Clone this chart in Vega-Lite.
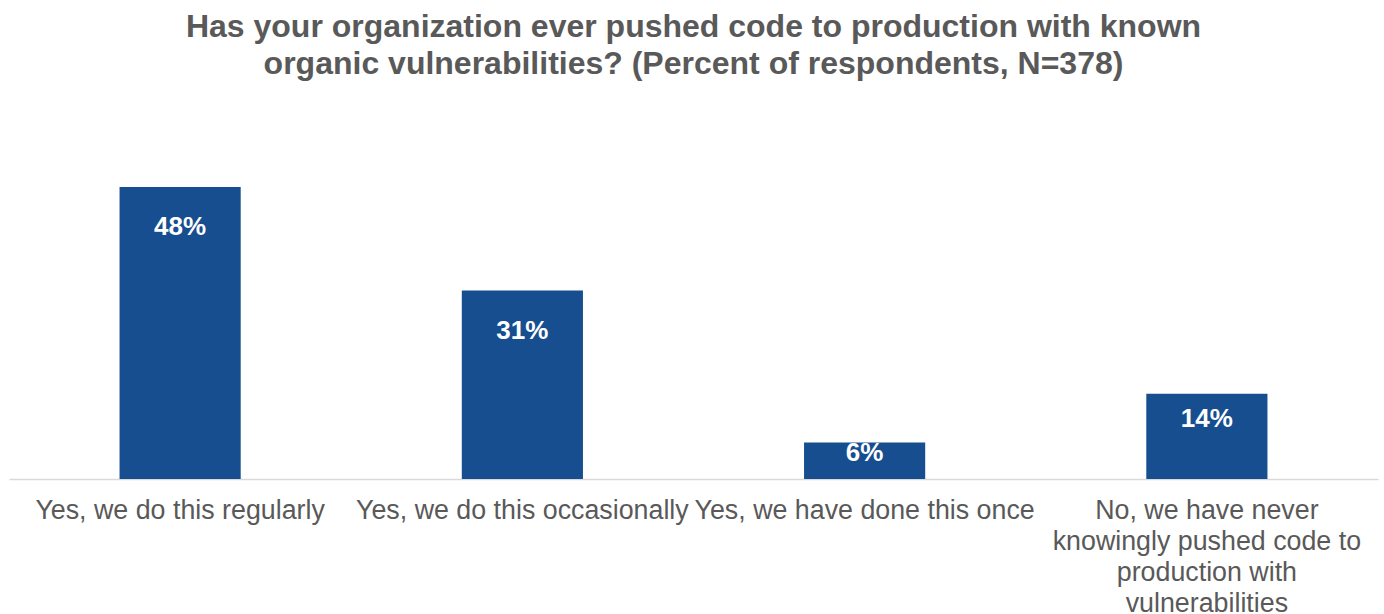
{
  "$schema": "https://vega.github.io/schema/vega-lite/v6.json",
  "width": 1369,
  "height": 365,
  "autosize": {"type": "none"},
  "padding": {"left": 9, "top": 114, "right": 6, "bottom": 135},
  "background": "white",
  "title": {
    "text": ["Has your organization ever pushed code to production with known", "organic vulnerabilities? (Percent of respondents, N=378)"],
    "font": "Liberation Sans",
    "fontSize": 32,
    "fontWeight": "bold",
    "color": "#595959",
    "lineHeight": 37,
    "anchor": "middle",
    "offset": 33
  },
  "data": {
    "values": [
      {"answer": "Yes, we do this regularly", "pct": 48},
      {"answer": "Yes, we do this occasionally", "pct": 31},
      {"answer": "Yes, we have done this once", "pct": 6},
      {"answer": "No, we have never knowingly pushed code to production with vulnerabilities", "pct": 14}
    ]
  },
  "transform": [
    {"calculate": "max(datum.pct * 0.7, datum.pct - 6.6)", "as": "labelPos"},
    {"calculate": "datum.pct + '%'", "as": "label"}
  ],
  "encoding": {
    "x": {
      "field": "answer",
      "type": "nominal",
      "sort": null,
      "scale": {"paddingInner": 0.646, "paddingOuter": 0.323},
      "axis": {
        "title": null,
        "labelAngle": 0,
        "ticks": false,
        "domainColor": "#D9D9D9",
        "domainWidth": 1.5,
        "labelFont": "Liberation Sans",
        "labelFontSize": 26.8,
        "labelColor": "#595959",
        "labelLineHeight": 31,
        "labelPadding": 18,
        "labelLimit": 400,
        "labelExpr": "datum.value == 'No, we have never knowingly pushed code to production with vulnerabilities' ? ['No, we have never', 'knowingly pushed code to', 'production with', 'vulnerabilities'] : datum.label"
      }
    }
  },
  "layer": [
    {
      "mark": {"type": "bar", "color": "#164E8F"},
      "encoding": {
        "y": {
          "field": "pct",
          "type": "quantitative",
          "scale": {"domain": [0, 60], "nice": false},
          "axis": null
        }
      }
    },
    {
      "mark": {
        "type": "text",
        "color": "white",
        "font": "Liberation Sans",
        "fontSize": 26,
        "fontWeight": "bold",
        "baseline": "middle"
      },
      "encoding": {
        "y": {"field": "labelPos", "type": "quantitative", "scale": {"domain": [0, 60], "nice": false}},
        "text": {"field": "label", "type": "nominal"}
      }
    }
  ],
  "config": {"view": {"stroke": null}}
}
